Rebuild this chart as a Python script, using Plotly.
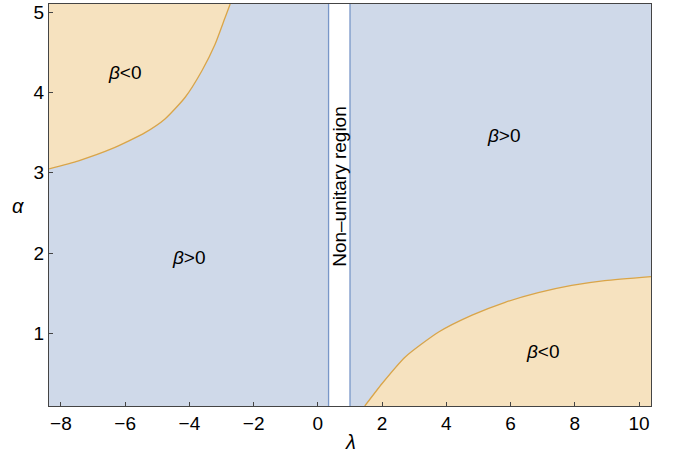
import plotly.graph_objects as go

# ---- data ----
x_range = [-8.37, 10.37]
y_range = [0.1, 5.1]
strip_edges = [1/3, 1.0]          # non-unitary region boundaries (lambda)

upper_curve_x = [-8.37, -7.45, -6.41, -5.38, -4.76, -4.13, -3.61, -3.20, -2.89, -2.73]
upper_curve_y = [3.05, 3.15, 3.30, 3.50, 3.67, 3.94, 4.27, 4.60, 4.93, 5.10]

lower_curve_x = [1.46, 2.00, 2.72, 3.76, 4.80, 5.83, 6.86, 7.90, 8.93, 10.37]
lower_curve_y = [0.10, 0.38, 0.71, 1.02, 1.23, 1.39, 1.51, 1.60, 1.66, 1.71]

tick_x = [-8, -6, -4, -2, 0, 2, 4, 6, 8, 10]
tick_y = [1, 2, 3, 4, 5]

labels = [
    ("<i>β</i><0", -6.0, 4.25),
    ("<i>β</i>>0", -4.0, 1.95),
    ("<i>β</i>>0", 5.8, 3.46),
    ("<i>β</i><0", 7.0, 0.78),
]

BLUE_FILL = "rgb(207,217,233)"
ORANGE_FILL = "rgb(246,226,191)"
BLUE_LINE = "rgb(120,150,200)"
ORANGE_LINE = "rgb(218,165,72)"

fig = go.Figure()

# blue regions (beta > 0), split by non-unitary strip
fig.add_trace(go.Scatter(
    x=[x_range[0], strip_edges[0], strip_edges[0], x_range[0], x_range[0]],
    y=[y_range[0], y_range[0], y_range[1], y_range[1], y_range[0]],
    fill="toself", fillcolor=BLUE_FILL, mode="lines", line=dict(width=0),
    hoverinfo="skip", showlegend=False))
fig.add_trace(go.Scatter(
    x=[strip_edges[1], x_range[1], x_range[1], strip_edges[1], strip_edges[1]],
    y=[y_range[0], y_range[0], y_range[1], y_range[1], y_range[0]],
    fill="toself", fillcolor=BLUE_FILL, mode="lines", line=dict(width=0),
    hoverinfo="skip", showlegend=False))

# orange upper-left region
fig.add_trace(go.Scatter(
    x=upper_curve_x + [x_range[0], x_range[0]],
    y=upper_curve_y + [y_range[1], upper_curve_y[0]],
    fill="toself", fillcolor=ORANGE_FILL, mode="lines", line=dict(width=0),
    hoverinfo="skip", showlegend=False))
# orange lower-right region
fig.add_trace(go.Scatter(
    x=lower_curve_x + [x_range[1], lower_curve_x[0]],
    y=lower_curve_y + [y_range[0], lower_curve_y[0]],
    fill="toself", fillcolor=ORANGE_FILL, mode="lines", line=dict(width=0),
    hoverinfo="skip", showlegend=False))

# boundary curves
fig.add_trace(go.Scatter(x=upper_curve_x, y=upper_curve_y, mode="lines",
                         line=dict(color=ORANGE_LINE, width=1.3, shape="spline", smoothing=0.6),
                         hoverinfo="skip", showlegend=False))
fig.add_trace(go.Scatter(x=lower_curve_x, y=lower_curve_y, mode="lines",
                         line=dict(color=ORANGE_LINE, width=1.3, shape="spline", smoothing=0.6),
                         hoverinfo="skip", showlegend=False))
for xe in strip_edges:
    fig.add_trace(go.Scatter(x=[xe, xe], y=y_range, mode="lines",
                             line=dict(color=BLUE_LINE, width=1.3),
                             hoverinfo="skip", showlegend=False))

FONT = "Liberation Sans, Arial, sans-serif"

for txt, lx, ly in labels:
    fig.add_annotation(x=lx, y=ly, text=txt, showarrow=False,
                       font=dict(family=FONT, size=19, color="black"))

fig.add_annotation(x=sum(strip_edges) / 2, y=2.83, text="Non\u2013unitary region",
                   showarrow=False, textangle=-90,
                   font=dict(family=FONT, size=19, color="black"))

# axis labels
fig.add_annotation(x=0.5, y=-0.09, xref="paper", yref="paper", text="<i>λ</i>",
                   showarrow=False, yanchor="middle",
                   font=dict(family=FONT, size=20, color="black"))
fig.add_annotation(x=-0.051, y=0.497, xref="paper", yref="paper", text="<i>α</i>",
                   showarrow=False, xanchor="center",
                   font=dict(family=FONT, size=20, color="black"))

axis_common = dict(showgrid=False, zeroline=False, showline=True, mirror=True,
                   linecolor="#444", linewidth=1.3, ticks="inside", ticklen=4,
                   tickcolor="#444", tickwidth=1, automargin=False,
                   tickfont=dict(family=FONT, size=19, color="black"))

fig.update_layout(
    width=677, height=457,
    margin=dict(l=49, r=26, t=4, b=51),
    plot_bgcolor="white", paper_bgcolor="white",
    xaxis=dict(range=x_range, tickvals=tick_x, **axis_common),
    yaxis=dict(range=y_range, tickvals=tick_y, **axis_common),
)

fig.write_html("out.html", config={"displayModeBar": False},
               post_script="document.body.style.margin='0';")
